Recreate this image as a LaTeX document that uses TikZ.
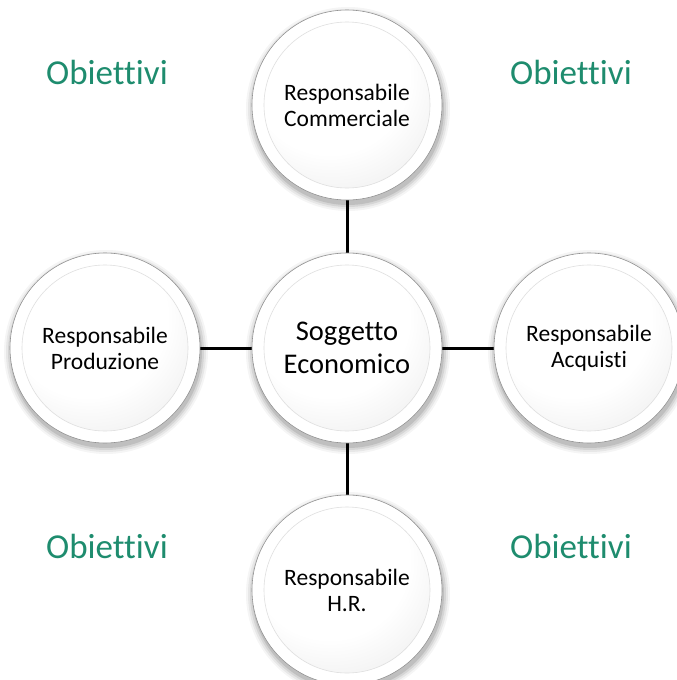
\documentclass[tikz,border=0pt]{standalone}
\usepackage{fontspec}
\setmainfont{Carlito}[Ligatures={NoCommon}]
\definecolor{goalgreen}{HTML}{1E8C6E}
\definecolor{rimgray}{HTML}{929292}
\pgfdeclareradialshading{rimshade}{\pgfpoint{-6bp}{8bp}}{%
  color(0bp)=(white); color(36bp)=(white); color(44bp)=(gray!22);
  color(50bp)=(gray!42); color(60bp)=(gray!55)}
\pgfdeclareradialshading{faceshade}{\pgfpoint{-8bp}{14bp}}{%
  color(0bp)=(white); color(24bp)=(white); color(48bp)=(gray!22); color(70bp)=(gray!32)}
\tikzset{
  every node/.style={font=\fontsize{23.5}{26}\selectfont, align=center},
  orgball/.pic={
    % soft drop shadow
    \foreach \k/\o in {7/0.04,5/0.06,3/0.08,1/0.1}{
      \fill[black, opacity=\o] (1,4) circle (95+\k);
    }
    \shade[shading=rimshade] (0,0) circle (95);
    \draw[rimgray, line width=0.6pt] (0,0) circle (95);
    \shade[shading=faceshade, draw=gray!25, line width=0.6pt] (0,0) circle (83);
  },
  link/.style={line width=3pt, black},
  goal/.style={text=goalgreen, font=\fontsize{35}{40}\selectfont},
  hub/.style={font=\fontsize{28.5}{33}\selectfont},
}
\begin{document}
\begin{tikzpicture}[x=1pt, y=-1pt]
  \useasboundingbox (0,0) rectangle (677,680);

  % connectors behind the balls
  \coordinate (cC) at (347,348);
  \coordinate (cT) at (347,105);
  \coordinate (cL) at (105,348);
  \coordinate (cR) at (589,348);
  \coordinate (cB) at (347,590);
  \draw[link] (cC) -- (cT);
  \draw[link] (cC) -- (cL);
  \draw[link] (cC) -- (cR);
  \draw[link] (cC) -- (cB);

  \pic at (cT) {orgball};
  \pic at (cL) {orgball};
  \pic at (cR) {orgball};
  \pic at (cB) {orgball};
  \pic at (cC) {orgball};

  \node (top) at (cT) {Responsabile\\Commerciale};
  \node (left) at (cL) {Responsabile\\Produzione};
  \node (right) at (cR) {Responsabile\\Acquisti};
  \node (bottom) at (cB) {Responsabile\\H.R.};
  \node[hub] (hub) at (cC) {Soggetto\\Economico};

  \node[goal] (g1) at (107,72) {Obiettivi};
  \node[goal] (g2) at (571,72) {Obiettivi};
  \node[goal] (g3) at (107,546) {Obiettivi};
  \node[goal] (g4) at (571,546) {Obiettivi};
\end{tikzpicture}
\end{document}
